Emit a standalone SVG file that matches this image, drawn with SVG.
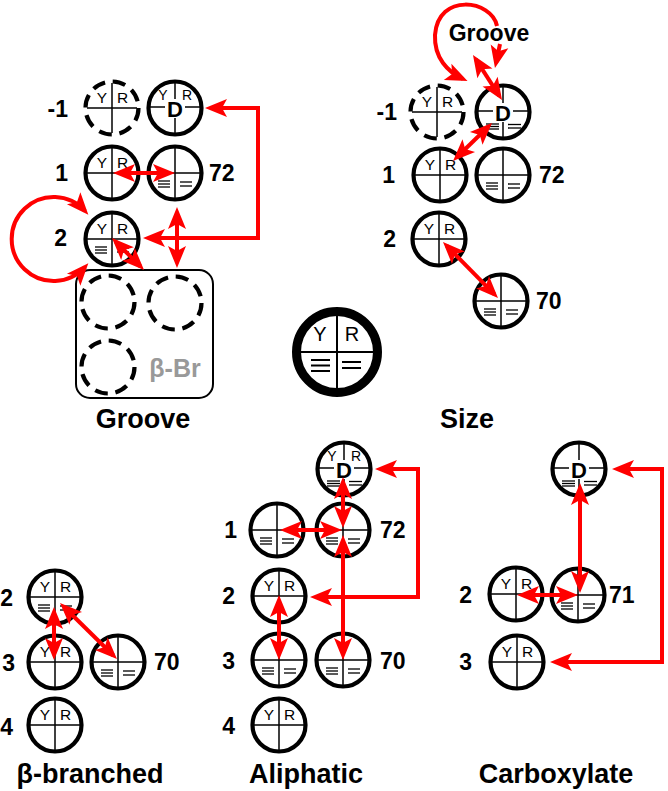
<svg xmlns="http://www.w3.org/2000/svg" xmlns:xlink="http://www.w3.org/1999/xlink" width="668" height="791" viewBox="0 0 668 791">
<style>
.ring{fill:#fff;stroke:#000;stroke-width:4.2}
.dash{fill:#fff;stroke:#000;stroke-width:4.2;stroke-dasharray:13 7.8}
.thin{stroke:#000;stroke-width:1.5;fill:none}
.eql{stroke:#000;stroke-width:1.3}
.yr{font-family:"Liberation Sans",Arial,sans-serif;font-size:15.5px;text-anchor:middle}
.yrd{font-family:"Liberation Sans",Arial,sans-serif;font-size:14px;text-anchor:middle}
.dt{font-family:"Liberation Sans",Arial,sans-serif;font-size:22px;font-weight:bold;text-anchor:middle}
.lbl{font-family:"Liberation Sans",Arial,sans-serif;font-size:23px;font-weight:bold}
.le{text-anchor:end}
.title{font-family:"Liberation Sans",Arial,sans-serif;font-size:27px;font-weight:bold;text-anchor:middle}
.arr{fill:none;stroke:#f00;stroke-width:4;marker-start:url(#ah);marker-end:url(#ah)}
.arr1{fill:none;stroke:#f00;stroke-width:4;marker-end:url(#ah)}
</style>
<defs>
<marker id="ah" viewBox="-20 -10 26 20" refX="0" refY="0" markerWidth="26" markerHeight="20" markerUnits="userSpaceOnUse" orient="auto-start-reverse"><path d="M5,0 L-17,-9 L-12,0 L-17,9 Z" fill="#f00"/></marker>
<circle id="ring" class="ring" r="26.5"/>
<circle id="dring" class="dash" r="26.5"/>
<g id="cross" class="thin"><line x1="-25" y1="0" x2="25" y2="0"/><line x1="0" y1="-25" x2="0" y2="25"/></g>
<g id="yr" class="yr"><text x="-10" y="-5">Y</text><text x="10.5" y="-5">R</text></g>
<g id="eq" class="eql"><line x1="-17" y1="8" x2="-5" y2="8"/><line x1="-17" y1="11" x2="-5" y2="11"/><line x1="-17" y1="14" x2="-5" y2="14"/><line x1="5" y1="9" x2="17" y2="9"/><line x1="5" y1="13" x2="17" y2="13"/></g>
<g id="dcross"><g class="thin"><line x1="-25" y1="-1" x2="-10" y2="-1"/><line x1="10" y1="-1" x2="25" y2="-1"/><line x1="0" y1="-25" x2="0" y2="-9"/><line x1="0" y1="10" x2="0" y2="25"/></g><text class="dt" x="0" y="8.5">D</text></g>
<g id="yrd" class="yrd"><text x="-12" y="-8">Y</text><text x="12" y="-8">R</text></g>
<g id="eqd" class="eql"><line x1="-17" y1="12" x2="-4" y2="12"/><line x1="-17" y1="14.5" x2="-4" y2="14.5"/><line x1="-17" y1="17" x2="-4" y2="17"/><line x1="5" y1="12.5" x2="18" y2="12.5"/><line x1="5" y1="16" x2="18" y2="16"/></g>
</defs>
<rect width="668" height="791" fill="#fff"/>

<!-- Groove panel -->
<g id="g-m1" transform="translate(112,108)"><use href="#dring"/><use href="#cross"/><use href="#yr"/></g>
<g id="g-D" transform="translate(175,108)"><use href="#ring"/><use href="#dcross"/><use href="#yrd"/></g>
<g id="g-1" transform="translate(112,173)"><use href="#ring"/><use href="#cross"/><use href="#yr"/></g>
<g id="g-72" transform="translate(175,173)"><use href="#ring"/><use href="#cross"/><use href="#eq"/></g>
<g id="g-2" transform="translate(112,239)"><use href="#ring"/><use href="#cross"/><use href="#yr"/><use href="#eq"/></g>
<g id="g-box">
<rect x="76" y="270" width="137" height="128" rx="14" fill="none" stroke="#000" stroke-width="2"/>
<use href="#dring" x="108" y="302"/>
<use href="#dring" x="175" y="303"/>
<use href="#dring" x="108" y="367"/>
<text x="175" y="377" class="lbl" style="font-size:25px;fill:#999;text-anchor:middle">β-Br</text>
</g>
<g id="g-labels">
<text class="lbl le" x="68" y="117">-1</text>
<text class="lbl le" x="68" y="181">1</text>
<text class="lbl" x="209" y="181">72</text>
<text class="lbl le" x="67" y="246">2</text>
<text class="title" x="143" y="428">Groove</text>
</g>

<!-- Size panel -->
<g id="s-m1" transform="translate(437,112)"><use href="#dring"/><use href="#cross"/><use href="#yr"/></g>
<g id="s-D" transform="translate(503,112)"><use href="#ring"/><use href="#dcross"/><use href="#eqd"/></g>
<g id="s-1" transform="translate(440,175)"><use href="#ring"/><use href="#cross"/><use href="#yr"/></g>
<g id="s-72" transform="translate(503,175)"><use href="#ring"/><use href="#cross"/><use href="#eq"/></g>
<g id="s-2" transform="translate(439,239)"><use href="#ring"/><use href="#cross"/><use href="#yr"/></g>
<g id="s-70" transform="translate(501,301)"><use href="#ring"/><use href="#cross"/><use href="#eq"/></g>
<g id="s-labels">
<text class="lbl le" x="397" y="120">-1</text>
<text class="lbl le" x="395" y="183">1</text>
<text class="lbl" x="539" y="183">72</text>
<text class="lbl le" x="396" y="247">2</text>
<text class="lbl" x="536" y="309">70</text>
<text class="title" x="489" y="41" style="font-size:23px">Groove</text>
<text class="title" x="467" y="428">Size</text>
</g>

<!-- Legend -->
<g id="legend" transform="translate(337,352)">
<circle r="40.5" fill="#fff" stroke="#000" stroke-width="9"/>
<g stroke="#000" stroke-width="2"><line x1="-37" y1="0" x2="37" y2="0"/><line x1="0" y1="-37" x2="0" y2="37"/></g>
<g class="yr" style="font-size:20px"><text x="-17" y="-11">Y</text><text x="15" y="-11">R</text></g>
<g stroke="#000" stroke-width="2"><line x1="-26" y1="8" x2="-7" y2="8"/><line x1="-26" y1="13.5" x2="-7" y2="13.5"/><line x1="-26" y1="19" x2="-7" y2="19"/><line x1="5" y1="10" x2="24" y2="10"/><line x1="5" y1="16" x2="24" y2="16"/></g>
</g>

<!-- beta-branched panel -->
<g id="b-2" transform="translate(55,597)"><use href="#ring"/><use href="#cross"/><use href="#yr"/><use href="#eq"/></g>
<g id="b-3" transform="translate(55,662)"><use href="#ring"/><use href="#cross"/><use href="#yr"/></g>
<g id="b-70" transform="translate(118,662)"><use href="#ring"/><use href="#cross"/><use href="#eq"/></g>
<g id="b-4" transform="translate(55,725)"><use href="#ring"/><use href="#cross"/><use href="#yr"/></g>
<g id="b-labels">
<text class="lbl le" x="13" y="606">2</text>
<text class="lbl le" x="15" y="671">3</text>
<text class="lbl le" x="13" y="735">4</text>
<text class="lbl" x="154" y="670">70</text>
<text class="title" x="90" y="783">β-branched</text>
</g>

<!-- Aliphatic panel -->
<g id="a-D" transform="translate(344,469)"><use href="#ring"/><use href="#dcross"/><use href="#yrd"/><use href="#eqd"/></g>
<g id="a-72" transform="translate(343,530)"><use href="#ring"/><use href="#cross"/><use href="#eq"/></g>
<g id="a-1" transform="translate(277,530)"><use href="#ring"/><use href="#cross"/><use href="#eq"/></g>
<g id="a-2" transform="translate(279,596)"><use href="#ring"/><use href="#cross"/><use href="#yr"/></g>
<g id="a-3" transform="translate(279,660)"><use href="#ring"/><use href="#cross"/><use href="#eq"/></g>
<g id="a-70" transform="translate(343,660)"><use href="#ring"/><use href="#cross"/><use href="#eq"/></g>
<g id="a-4" transform="translate(279,725)"><use href="#ring"/><use href="#cross"/><use href="#yr"/></g>
<g id="a-labels">
<text class="lbl le" x="237" y="538">1</text>
<text class="lbl" x="380" y="538">72</text>
<text class="lbl le" x="235" y="604">2</text>
<text class="lbl le" x="235" y="669">3</text>
<text class="lbl" x="380" y="669">70</text>
<text class="lbl le" x="235" y="734">4</text>
<text class="title" x="306" y="783">Aliphatic</text>
</g>

<!-- Carboxylate panel -->
<g id="c-D" transform="translate(579,469)"><use href="#ring"/><use href="#dcross"/><use href="#eqd"/></g>
<g id="c-71" transform="translate(578,595)"><use href="#ring"/><use href="#cross"/><use href="#eq"/></g>
<g id="c-2" transform="translate(516,594)"><use href="#ring"/><use href="#cross"/><use href="#yr"/></g>
<g id="c-3" transform="translate(517,662)"><use href="#ring"/><use href="#cross"/><use href="#yr"/></g>
<g id="c-labels">
<text class="lbl le" x="472" y="603">2</text>
<text class="lbl" x="609" y="603">71</text>
<text class="lbl le" x="472" y="670">3</text>
<text class="title" x="556" y="783">Carboxylate</text>
</g>

<!-- Connectors -->
<g id="connectors">
<path class="arr" d="M210 108 H258 V238 H148"/>
<path class="arr" d="M118 173 H170"/>
<path class="arr" d="M177 212 V263"/>
<path class="arr" d="M115.5 241.5 L140.5 266.5"/>
<path class="arr" d="M85 211 A42 42 0 1 0 85 267"/>

<path class="arr" d="M475.7 59.2 L499.3 95.8"/>
<path class="arr" d="M456.6 157.5 L488.4 126.5"/>
<path class="arr1" d="M497 26 C492 0 438 -8 435 35 C434 58 448 72 463 79"/>
<path class="arr1" d="M500 44 L496 63"/>
<path class="arr" d="M446.5 245.6 L494.5 294.4"/>

<path class="arr" d="M54 612 V655"/>
<path class="arr" d="M63.6 606.5 L113.4 655.5"/>

<path class="arr" d="M343 482 V523"/>
<path class="arr" d="M285 530 H337"/>
<path class="arr" d="M343 540 V655"/>
<path class="arr" d="M380 469 H418 V597 H315"/>
<path class="arr" d="M279 600 V655"/>

<path class="arr" d="M580 488 V588"/>
<path class="arr" d="M522 595 H573"/>
<path class="arr" d="M617 469 H662 V662 H555"/>
</g>
</svg>
